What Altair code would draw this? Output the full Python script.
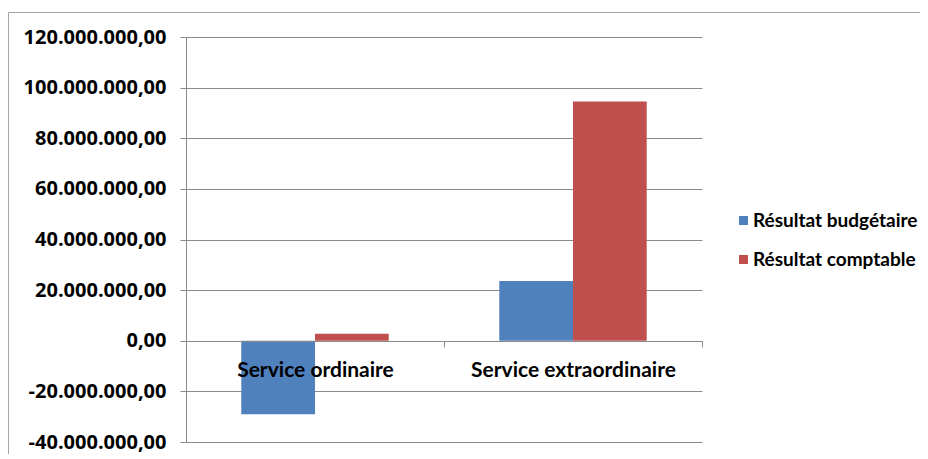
import altair as alt
import pandas as pd

categories = ["Service ordinaire", "Service extraordinaire"]
series = ["Résultat budgétaire", "Résultat comptable"]
budgetaire = [-29000000, 23600000]
comptable = [2800000, 94500000]
colors = ["#4F81BD", "#C0504D"]
y_ticks = [-40000000, -20000000, 0, 20000000, 40000000, 60000000, 80000000, 100000000, 120000000]

rows = []
for i, c in enumerate(categories):
    rows.append({"categorie": c, "serie": series[0], "valeur": budgetaire[i]})
    rows.append({"categorie": c, "serie": series[1], "valeur": comptable[i]})
df = pd.DataFrame(rows)

FONT = "Lato"
NUMFONT = "Open Sans"
GRID = "#8a8a8a"
BORDER = "#a6a6a6"

bars = alt.Chart(df).mark_bar().encode(
    x=alt.X(
        "categorie:N",
        sort=categories,
        scale=alt.Scale(paddingInner=0, paddingOuter=0),
        axis=alt.Axis(
            title=None, labelAngle=0, offset=-101, tickBand="extent", zindex=1,
            domainColor=GRID, tickColor=GRID, tickSize=6, labelPadding=12, labelLimit=0,
            labelFont=FONT, labelFontSize=21, labelFontWeight="bold", labelColor="black",
            grid=False,
        ),
    ),
    xOffset=alt.XOffset("serie:N", sort=series, scale=alt.Scale(paddingOuter=0.75, paddingInner=0)),
    y=alt.Y(
        "valeur:Q",
        scale=alt.Scale(domain=[-40000000, 120000000], nice=False),
        axis=alt.Axis(
            title=None, values=y_ticks, format=",.2f",
            domainColor=GRID, tickColor=GRID, tickSize=6, labelPadding=14,
            gridColor=GRID, gridWidth=1,
            labelFont=NUMFONT, labelFontSize=20, labelFontWeight="bold", labelColor="black",
        ),
    ),
    color=alt.Color(
        "serie:N", sort=series,
        scale=alt.Scale(domain=series, range=colors),
        legend=alt.Legend(
            title=None, orient="none", legendX=548, legendY=174,
            symbolType="square", symbolSize=81, symbolStrokeWidth=0,
            labelOffset=0, rowPadding=19, padding=0, labelLimit=0,
            labelFont=FONT, labelFontSize=19, labelFontWeight="bold", labelColor="black",
        ),
    ),
)

frame = pd.DataFrame({"k": [0]})
top_line = alt.Chart(frame).mark_rule(stroke=BORDER, strokeWidth=1).encode(
    x=alt.value(-177.5), x2=alt.value(800), y=alt.value(-24.5)
)
left_line = alt.Chart(frame).mark_rule(stroke=BORDER, strokeWidth=1).encode(
    x=alt.value(-177.5), y=alt.value(-24.5), y2=alt.value(500)
)

chart = alt.layer(top_line, left_line, bars).properties(
    width=516, height=405,
    autosize=alt.AutoSizeParams(type="none"),
    padding={"left": 178, "top": 29, "right": 218, "bottom": 12},
).configure(
    locale={"number": {"decimal": ",", "thousands": ".", "grouping": [3], "currency": ["", ""], "minus": "-"}}
).configure_view(stroke=None)

chart.save("out.html", embed_options={"renderer": "svg", "actions": False})
